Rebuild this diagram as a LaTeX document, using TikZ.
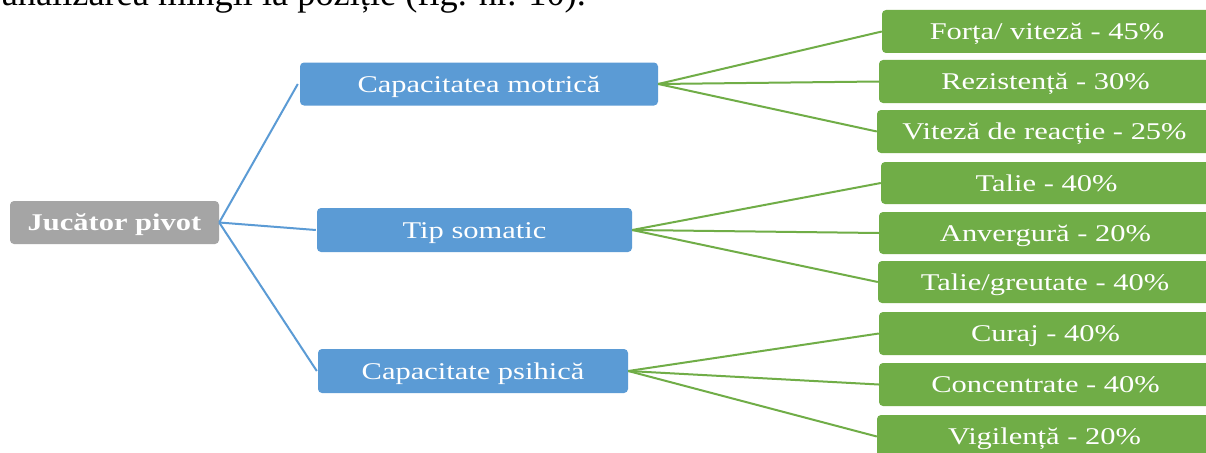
\documentclass[tikz,border=0pt]{standalone}
\usepackage{fontspec}
\setmainfont{Liberation Serif}
\definecolor{rootgray}{HTML}{A5A5A5}
\definecolor{midblue}{HTML}{5B9BD5}
\definecolor{leafgreen}{HTML}{70AD47}
% horizontally widened labels
\newcommand\widetxt[1]{\scalebox{1.27}[1]{#1}}
\tikzset{
  box/.style={rectangle, rounded corners=4pt, inner sep=0pt, text=white,
    font=\fontsize{24}{24}\selectfont, text height=16pt, text depth=0pt,
    minimum height=43pt},
  rootbox/.style={box, fill=rootgray, font=\fontsize{24}{24}\selectfont\bfseries},
  midbox/.style={box, fill=midblue},
  leafbox/.style={box, fill=leafgreen},
  bluelink/.style={draw=midblue, line width=2pt},
  greenlink/.style={draw=leafgreen, line width=2pt},
}
\begin{document}
\begin{tikzpicture}[x=1pt,y=-1pt]
\clip (0,0) rectangle (1206,452);
\fill[white] (0,0) rectangle (1206,452);

% running text above the chart
\node[anchor=base east, inner sep=0pt] (body) at (586,6)
  {\resizebox{584pt}{\height}{\fontsize{36}{36}\selectfont analizarea mingii la poziție (fig. nr. 10).}};

% root
\node[rootbox, minimum width=209pt] (jp) at (114.5,222.5) {\widetxt{Jucător pivot}};

% categories
\node[midbox, minimum width=358pt] (cm) at (479,84)   {\widetxt{Capacitatea motrică}};
\node[midbox, minimum width=315pt, minimum height=44pt] (ts) at (474.5,230) {\widetxt{Tip somatic}};
\node[midbox, minimum width=310pt, minimum height=44pt] (cp) at (473,371)   {\widetxt{Capacitate psihică}};

% leaves
\node[leafbox, minimum width=330pt] (g1) at (1047,31.5)   {\widetxt{Forța/ viteză - 45\%}};
\node[leafbox, minimum width=333pt] (g2) at (1045.5,81.5) {\widetxt{Rezistență - 30\%}};
\node[leafbox, minimum width=335pt] (g3) at (1044.5,131.5){\widetxt{Viteză de reacție - 25\%}};
\node[leafbox, minimum width=331pt, minimum height=42pt] (g4) at (1046.5,183) {\widetxt{Talie - 40\%}};
\node[leafbox, minimum width=333pt, minimum height=42pt] (g5) at (1045.5,233) {\widetxt{Anvergură - 20\%}};
\node[leafbox, minimum width=334pt, minimum height=42pt] (g6) at (1045,282)   {\widetxt{Talie/greutate - 40\%}};
\node[leafbox, minimum width=333pt] (g7) at (1045.5,333.5){\widetxt{Curaj - 40\%}};
\node[leafbox, minimum width=333pt] (g8) at (1045.5,384.5){\widetxt{Concentrate - 40\%}};
\node[leafbox, minimum width=335pt] (g9) at (1044.5,436.5){\widetxt{Vigilență - 20\%}};

% root to categories
\draw[bluelink] (jp.east) -- ([xshift=-2pt]cm.west);
\draw[bluelink] (jp.east) -- ([xshift=-1pt]ts.west);
\draw[bluelink] (jp.east) -- ([xshift=-1pt]cp.west);

% categories to leaves
\foreach \c/\l in {cm/g1, cm/g2, cm/g3, ts/g4, ts/g5, ts/g6, cp/g7, cp/g8, cp/g9}
  \draw[greenlink] (\c.east) -- (\l.west);
\end{tikzpicture}
\end{document}
